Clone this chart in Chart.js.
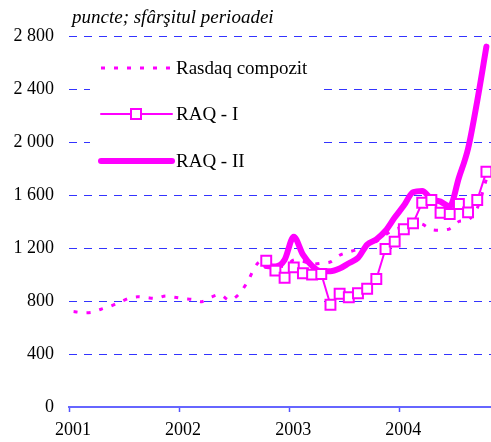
<!DOCTYPE html>
<html>
<head>
<meta charset="utf-8">
<script src="https://cdn.jsdelivr.net/npm/chart.js@4.4.0/dist/chart.umd.min.js"></script>
<style>
  html, body { margin: 0; padding: 0; background: #fff; }
  #wrap { width: 491px; height: 442px; position: relative; }
</style>
</head>
<body>
<div id="wrap"><canvas id="c" width="491" height="442"></canvas></div>
<script>
// months counted from Jan 2001 (0 = Jan 2001)
const years = [2001, 2002, 2003, 2004];
const yTicks = [0, 400, 800, 1200, 1600, 2000, 2400, 2800];

const rasdaqStart = 0;
const rasdaq = [720, 712, 715, 738, 760, 790, 820, 832, 825, 820, 838, 828,
                818, 812, 795, 830, 848, 805, 850, 950, 1080, 1110, 1080, 1060,
                1110, 1100, 1080, 1085, 1095, 1145, 1170, 1190, 1210, 1250, 1300, 1340,
                1360, 1390, 1380, 1340, 1335, 1345, 1400, 1410, 1500, 1720];

const raqStart = 21; // Oct 2002
const raq1 = [1104, 1029, 976, 1054, 1009, 999, 1004, 772, 855, 828, 858, 893,
              966, 1192, 1248, 1341, 1386, 1542, 1562, 1466, 1457, 1532, 1469, 1562, 1776];
const raq2 = [1065, 1060, 1110, 1285, 1150, 1065, 1025, 1025, 1045, 1085, 1125, 1225,
              1265, 1330, 1430, 1520, 1620, 1630, 1570, 1550, 1515, 1730, 1950, 2310, 2720];

const MAG = '#ff00ff';
const FONT = '"Liberation Serif", "Times New Roman", serif';

function pts(arr, start) {
  return arr.map((v, i) => ({ x: start + i + 0.5, y: v }));
}

const legendItems = [
  { label: 'Rasdaq compozit', y: 68, width: 3, dash: [4, 9], marker: false },
  { label: 'RAQ - I', y: 114, width: 2, dash: [], marker: true },
  { label: 'RAQ - II', y: 161, width: 6, dash: [], marker: false }
];

const decor = {
  id: 'decor',
  beforeDatasetsDraw(chart) {
    const ctx = chart.ctx;
    ctx.save();
    ctx.fillStyle = '#fff';
    ctx.fillRect(90, 42, 228, 146);
    ctx.restore();
  },
  afterDraw(chart) {
    const ctx = chart.ctx;
    ctx.save();
    ctx.fillStyle = '#000';
    ctx.font = 'italic 19px ' + FONT;
    ctx.textBaseline = 'middle';
    ctx.fillText('puncte; sfârşitul perioadei', 72, 18);

    ctx.font = '19px ' + FONT;
    legendItems.forEach(it => {
      ctx.strokeStyle = MAG;
      ctx.lineWidth = it.width;
      ctx.lineCap = it.dash.length ? 'butt' : 'round';
      ctx.setLineDash(it.dash);
      ctx.beginPath();
      ctx.moveTo(101, it.y);
      ctx.lineTo(172, it.y);
      ctx.stroke();
      ctx.setLineDash([]);
      if (it.marker) {
        ctx.fillStyle = '#fff';
        ctx.lineWidth = 2;
        ctx.fillRect(131, it.y - 5, 10, 10);
        ctx.strokeRect(131, it.y - 5, 10, 10);
      }
      ctx.fillStyle = '#000';
      ctx.fillText(it.label, 176, it.y + 1);
    });
    ctx.restore();
  }
};

new Chart(document.getElementById('c'), {
  type: 'line',
  data: {
    datasets: [
      {
        label: 'RAQ - I',
        data: pts(raq1, raqStart),
        borderColor: MAG,
        borderWidth: 2,
        backgroundColor: '#fff',
        pointStyle: 'rect',
        pointRadius: 7,
        pointBorderWidth: 2,
        pointBorderColor: MAG,
        pointBackgroundColor: '#fff',
        tension: 0,
        order: 0
      },
      {
        label: 'RAQ - II',
        data: pts(raq2, raqStart),
        borderColor: MAG,
        borderWidth: 6,
        pointRadius: 0,
        cubicInterpolationMode: 'monotone',
        borderCapStyle: 'round',
        borderJoinStyle: 'round',
        order: 1
      },
      {
        label: 'Rasdaq compozit',
        data: pts(rasdaq, rasdaqStart),
        borderColor: MAG,
        borderWidth: 3,
        borderDash: [4, 9],
        pointRadius: 0,
        tension: 0.3,
        order: 2
      }
    ]
  },
  options: {
    responsive: false,
    animation: false,
    layout: { autoPadding: false, padding: { top: 36, right: 0, left: 0, bottom: 0 } },
    plugins: { legend: { display: false }, tooltip: { enabled: false } },
    scales: {
      x: {
        type: 'linear',
        min: 0,
        max: 46,
        afterBuildTicks(scale) {
          scale.ticks = years.map((y, i) => ({ value: i * 12 }));
        },
        afterFit(scale) { scale.height = 35; },
        ticks: {
          color: '#000',
          font: { family: FONT, size: 18 },
          labelOffset: 4,
          padding: 7,
          maxRotation: 0,
          callback: v => String(years[v / 12])
        },
        grid: {
          drawOnChartArea: false,
          drawTicks: true,
          tickLength: 5,
          tickColor: '#5555ff',
          tickWidth: 1.5
        },
        border: { display: true, color: '#6666ff', width: 2 }
      },
      y: {
        min: 0,
        max: 2800,
        afterBuildTicks(scale) {
          scale.ticks = yTicks.map(v => ({ value: v }));
        },
        afterFit(scale) { scale.width = 69; },
        ticks: {
          color: '#000',
          font: { family: FONT, size: 18 },
          padding: 15,
          callback: v => v >= 1000 ? Math.floor(v / 1000) + ' ' + String(v % 1000).padStart(3, '0') : String(v)
        },
        grid: {
          color: '#3333ff',
          lineWidth: 1,
          drawTicks: false
        },
        border: { display: false, dash: [8, 7] }
      }
    }
  },
  plugins: [decor]
});
</script>
</body>
</html>
